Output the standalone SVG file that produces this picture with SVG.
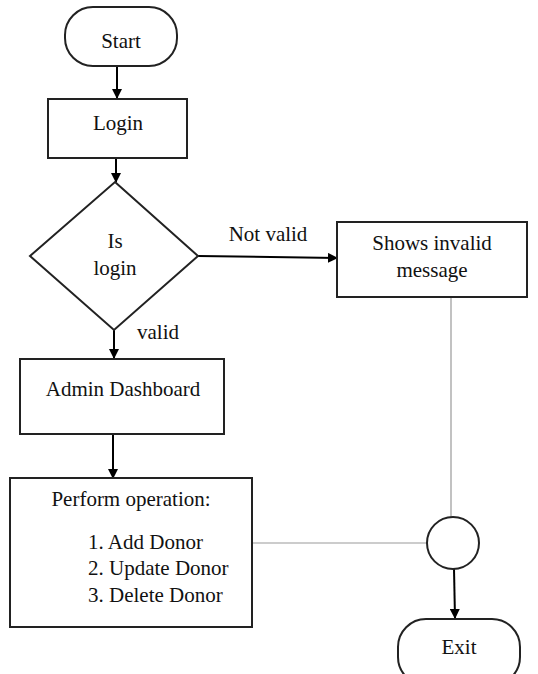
<svg xmlns="http://www.w3.org/2000/svg" width="538" height="674" viewBox="0 0 538 674">
<defs>
<marker id="ah" markerWidth="10" markerHeight="10" refX="9" refY="5" orient="auto" markerUnits="userSpaceOnUse">
<path d="M0,0 L10,5 L0,10 Z" fill="#000"/>
</marker>
<style>
.s{fill:#fff;stroke:#222;stroke-width:2}
.t{font-family:"Liberation Serif",serif;font-size:21px;fill:#111;text-anchor:middle}
.l{text-anchor:start}
.c{stroke:#000;stroke-width:2;fill:none}
.g{stroke:#999;stroke-width:1.2;fill:none}
</style>
</defs>
<rect width="538" height="674" fill="#fff"/>
<g id="connectors">
<line class="c" x1="117" y1="66" x2="117" y2="98" marker-end="url(#ah)"/>
<line class="c" x1="116" y1="158" x2="116" y2="182" marker-end="url(#ah)"/>
<line class="c" x1="198" y1="256" x2="337" y2="258" marker-end="url(#ah)"/>
<line class="c" x1="114" y1="330" x2="114" y2="358" marker-end="url(#ah)"/>
<line class="c" x1="113" y1="434" x2="113" y2="478" marker-end="url(#ah)"/>
<line class="g" x1="451" y1="297" x2="451" y2="517"/>
<line class="g" x1="252" y1="543" x2="427" y2="543"/>
<line class="c" x1="454" y1="569" x2="455" y2="618" marker-end="url(#ah)"/>
<text class="t" x="268" y="241">Not valid</text>
<text class="t" x="158" y="339">valid</text>
</g>
<g id="start">
<rect class="s" x="65" y="7" width="112" height="59" rx="28"/>
<text class="t" x="121" y="48">Start</text>
</g>
<g id="login">
<rect class="s" x="48" y="99" width="139" height="59"/>
<text class="t" x="118" y="130">Login</text>
</g>
<g id="decision">
<polygon class="s" points="115,182 198,256 114,330 30,256"/>
<text class="t" x="115" y="248">Is</text>
<text class="t" x="115" y="275">login</text>
</g>
<g id="invalid">
<rect class="s" x="337" y="222" width="190" height="75"/>
<text class="t" x="432" y="250">Shows invalid</text>
<text class="t" x="432" y="277">message</text>
</g>
<g id="dashboard">
<rect class="s" x="20" y="359" width="204" height="75"/>
<text class="t" x="123" y="396">Admin Dashboard</text>
</g>
<g id="perform">
<rect class="s" x="10" y="478" width="242" height="149"/>
<text class="t" x="131" y="506">Perform operation:</text>
<text class="t l" x="88" y="549">1. Add Donor</text>
<text class="t l" x="88" y="575">2. Update Donor</text>
<text class="t l" x="88" y="602">3. Delete Donor</text>
</g>
<g id="junction">
<circle class="s" cx="453" cy="543" r="26" stroke-width="1.5"/>
</g>
<g id="exit">
<rect class="s" x="398" y="619" width="122" height="66" rx="28"/>
<text class="t" x="459" y="654">Exit</text>
</g>
</svg>
